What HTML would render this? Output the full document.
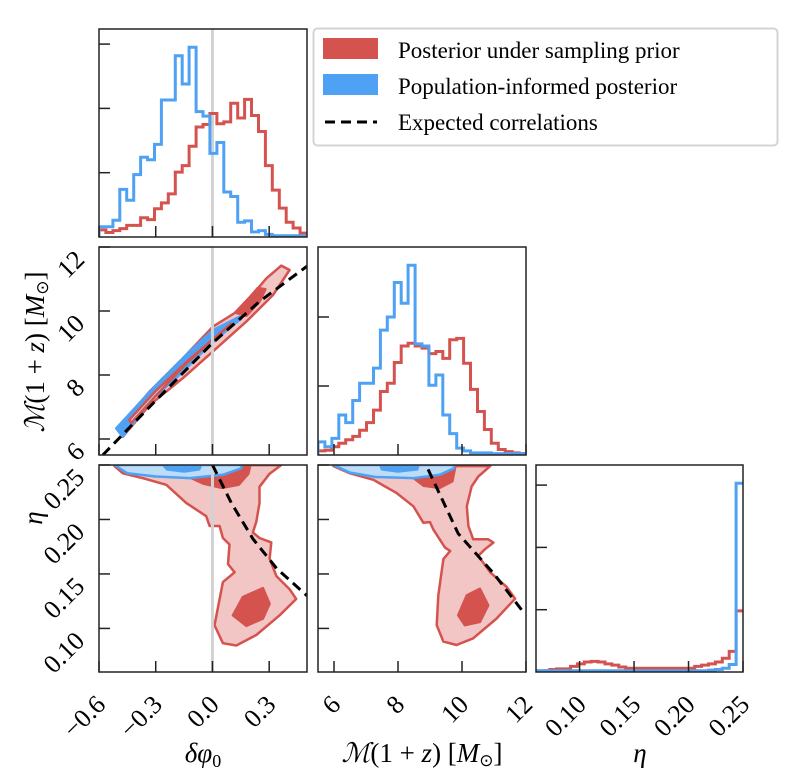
<!DOCTYPE html>
<html><head><meta charset="utf-8"><style>
html,body{margin:0;padding:0;background:#fff;}
svg{display:block;font-family:"Liberation Serif",serif;}
</style></head><body>
<svg id="fig" width="788" height="778" viewBox="0 0 788 778" xmlns="http://www.w3.org/2000/svg">
<g id="layer-fill"></g>
<g id="layer-lines"></g>
<g id="layer-axes"></g>
<g>
  <rect x="313.5" y="28.5" width="464" height="117" rx="4" fill="#fff" stroke="#d4d4d4" stroke-width="2"/>
  <rect x="323" y="38" width="55" height="21" fill="#d5534f"/>
  <text x="398" y="58" font-size="23">Posterior under sampling prior</text>
  <rect x="323" y="74" width="55" height="21" fill="#4fa2f3"/>
  <text x="398" y="94" font-size="23">Population-informed posterior</text>
  <line x1="325" y1="122" x2="377" y2="122" stroke="#000" stroke-width="3" stroke-dasharray="10,6"/>
  <text x="398" y="130" font-size="23">Expected correlations</text>
</g>
<g>
  <text x="203" y="762" font-size="27" text-anchor="middle" font-style="italic">δφ<tspan font-size="18" font-style="normal" dy="5">0</tspan></text>
  <text x="422" y="762" font-size="27" text-anchor="middle"><tspan font-style="italic">ℳ</tspan>(1 + <tspan font-style="italic">z</tspan>) [<tspan font-style="italic">M</tspan><tspan font-size="17" dy="4">⊙</tspan><tspan dy="-4">]</tspan></text>
  <text x="640" y="762" font-size="27" text-anchor="middle" font-style="italic">η</text>
  <text transform="translate(44,352) rotate(-90)" font-size="27" text-anchor="middle"><tspan font-style="italic">ℳ</tspan>(1 + <tspan font-style="italic">z</tspan>) [<tspan font-style="italic">M</tspan><tspan font-size="17" dy="4">⊙</tspan><tspan dy="-4">]</tspan></text>
  <text transform="translate(42,518) rotate(-90)" font-size="27" text-anchor="middle" font-style="italic">η</text>
</g>
</svg>
<script>
// ---- data ----
const dphiRange=[-0.6,0.5], mcRange=[5.5,12], etaRange=[0.06,0.25];
const dphiTicks=[-0.6,-0.3,0.0,0.3], dphiTickLabels=['−0.6','−0.3','0.0','0.3'];
const mcTicks=[6,8,10,12], mcTickLabels=['6','8','10','12'];
const etaTicks=[0.10,0.15,0.20,0.25], etaTickLabels=['0.10','0.15','0.20','0.25'];
const histDphiRed=[0.11,0.07,0.1,0.13,0.18,0.18,0.3,0.27,0.44,0.53,0.67,1.01,1.11,1.41,1.71,1.75,1.92,1.76,1.79,2.08,1.85,2.14,1.89,1.64,1.11,0.73,0.45,0.23,0.14,0.06];
const histDphiBlue=[0.16,0.16,0.26,0.74,0.57,0.97,1.24,1.2,1.44,2.13,2.13,2.82,2.38,2.95,1.95,1.88,1.3,1.47,0.7,0.63,0.23,0.25,0.08,0.1,0.04,0.02,0.02,0.02,0.02,0.02];
const histMcRed=[0.06,0.07,0.12,0.17,0.22,0.27,0.36,0.47,0.65,0.92,1.04,1.34,1.58,1.62,1.58,1.55,1.47,1.5,1.4,1.67,1.69,1.33,0.95,0.63,0.37,0.17,0.08,0.05,0.03,0.02];
const histMcBlue=[0.19,0.12,0.24,0.58,0.47,0.79,1.04,1.04,1.26,1.81,2.0,2.5,2.2,2.75,1.61,1.58,1.01,1.16,0.58,0.31,0.1,0.06,0.03,0.03,0.03,0.02,0.02,0.02,0.02,0.02];
const histEtaRed=[0.02,0.02,0.04,0.05,0.05,0.09,0.13,0.16,0.17,0.16,0.13,0.11,0.08,0.06,0.06,0.06,0.06,0.06,0.06,0.06,0.06,0.06,0.06,0.09,0.11,0.13,0.16,0.22,0.33,0.98];
const histEtaBlue=[0.02,0.02,0.02,0.02,0.02,0.02,0.02,0.02,0.02,0.02,0.02,0.02,0.02,0.02,0.02,0.02,0.02,0.02,0.02,0.02,0.02,0.02,0.02,0.02,0.02,0.03,0.04,0.06,0.12,3.03];
// contours [x, y] in data units
const mcDphiRedOuter=[[-0.49,6.37],[-0.333,7.48],[-0.157,8.52],[0.002,9.51],[0.143,10.03],[0.285,11.02],[0.364,11.42],[0.408,11.28],[0.32,10.5],[0.179,9.67],[0.002,8.73],[-0.157,7.9],[-0.333,7.06],[-0.474,6.07]];
const mcDphiRedInner=[[0.12,9.95],[0.2,10.45],[0.24,10.72],[0.28,10.68],[0.25,10.3],[0.18,9.85]];
const mcDphiBlueOuter=[[-0.509,6.33],[-0.315,7.58],[-0.121,8.73],[0.002,9.4],[0.143,9.82],[0.15,9.75],[0.108,9.56],[-0.015,8.94],[-0.157,8.1],[-0.333,7.17],[-0.474,6.07]];
const mcDphiBlueInner=[[-0.44,6.6],[-0.3,7.5],[-0.12,8.5],[0.0,9.1],[0.1,9.6],[0.08,9.5],[-0.02,9.0],[-0.14,8.35],[-0.3,7.35],[-0.43,6.5]];
const etaDphiRedOuter=[[-0.518,0.249],[-0.474,0.2424],[-0.368,0.2379],[-0.244,0.2318],[-0.139,0.2152],[-0.033,0.203],[-0.015,0.194],[0.038,0.194],[0.055,0.183],[0.09,0.177],[0.082,0.159],[0.117,0.1515],[0.055,0.1425],[0.011,0.103],[0.055,0.0864],[0.126,0.0843],[0.232,0.094],[0.355,0.112],[0.443,0.127],[0.408,0.136],[0.338,0.148],[0.302,0.164],[0.311,0.179],[0.249,0.183],[0.214,0.188],[0.232,0.198],[0.249,0.215],[0.249,0.23],[0.302,0.242],[0.364,0.25]];
const etaDphiRedInner=[[0.108,0.112],[0.161,0.1288],[0.267,0.137],[0.302,0.1227],[0.267,0.109],[0.179,0.1024]];
const etaDphiRedTop=[[-0.16,0.25],[-0.15,0.241],[-0.05,0.233],[0.05,0.229],[0.14,0.232],[0.19,0.242],[0.2,0.25]];
const etaDphiBlueOuter=[[-0.518,0.25],[-0.45,0.2424],[-0.3,0.2394],[-0.12,0.238],[0.055,0.241],[0.152,0.247],[0.152,0.25]];
const etaDphiBlueInner=[[-0.26,0.25],[-0.24,0.246],[-0.15,0.244],[-0.07,0.246],[-0.06,0.25]];
const etaMcRedOuter=[[5.98,0.249],[6.5,0.2424],[7.23,0.2364],[7.96,0.2242],[8.48,0.2121],[8.79,0.197],[9.0,0.1976],[9.1,0.191],[9.47,0.1742],[9.63,0.1712],[9.42,0.1636],[9.26,0.1303],[9.21,0.103],[9.42,0.0879],[9.83,0.0848],[10.35,0.0909],[11.08,0.1091],[11.66,0.1273],[11.4,0.1379],[10.88,0.1515],[10.51,0.1667],[10.72,0.1727],[10.98,0.1788],[10.82,0.1818],[10.35,0.1818],[10.2,0.194],[10.15,0.2121],[10.3,0.2303],[10.51,0.2394],[10.88,0.249]];
const etaMcRedInner=[[9.88,0.112],[10.15,0.1303],[10.56,0.1364],[10.82,0.1212],[10.56,0.106],[10.09,0.103]];
const etaMcRedTop=[[8.37,0.25],[8.4,0.24],[8.8,0.231],[9.3,0.229],[9.7,0.235],[9.8,0.25]];
const etaMcBlueOuter=[[5.98,0.25],[6.5,0.243],[7.3,0.239],[8.5,0.238],[9.3,0.241],[9.75,0.247],[9.75,0.25]];
const etaMcBlueInner=[[7.44,0.25],[7.5,0.246],[8.0,0.244],[8.6,0.246],[8.64,0.25]];
const corrMcDphiX=[-0.58,-0.3,0.0,0.25,0.5], corrMcDphiY=[5.5,7.2,9.0,10.3,11.4];
const corrEtaDphiX=[0.0,0.1,0.215,0.34,0.5], corrEtaDphiY=[0.25,0.215,0.182,0.155,0.13];
const corrEtaMcX=[8.94,9.88,11.0,11.97], corrEtaMcY=[0.246,0.187,0.15,0.113];
const truthDphi=0.0;

// ---- layout ----
const NS='http://www.w3.org/2000/svg';
const cols=[[99,307],[318,526],[536,743]];
const rows=[[29,237],[247,455],[465,672]];
function lin(d,r){return v=>r[0]+(v-d[0])/(d[1]-d[0])*(r[1]-r[0]);}
const xD=lin(dphiRange,cols[0]), xM=lin(mcRange,cols[1]), xE=lin(etaRange,cols[2]);
const yM=lin(mcRange,[rows[1][1],rows[1][0]]), yE=lin(etaRange,[rows[2][1],rows[2][0]]);
const RED='#d5534f', LRED='#f2c6c5', BLUE='#4fa2f3', LBLUE='#bcdcf7';
const fillL=document.getElementById('layer-fill'), lineL=document.getElementById('layer-lines'), axL=document.getElementById('layer-axes');
function mk(tag,attrs,parent){const e=document.createElementNS(NS,tag);for(const k in attrs)e.setAttribute(k,attrs[k]);parent.appendChild(e);return e;}
function clip(id,c,r){const cp=mk('clipPath',{id:id},document.getElementById('fig'));mk('rect',{x:c[0],y:r[0],width:c[1]-c[0],height:r[1]-r[0]},cp);}
clip('c00',cols[0],rows[0]);clip('c10',cols[0],rows[1]);clip('c11',cols[1],rows[1]);clip('c20',cols[0],rows[2]);clip('c21',cols[1],rows[2]);clip('c22',cols[2],rows[2]);
function poly(pts,fx,fy,fill,stroke,cl,name){
  const d='M'+pts.map(p=>fx(p[0]).toFixed(1)+','+fy(p[1]).toFixed(1)).join('L')+'Z';
  const e=mk('path',{d:d,fill:fill,stroke:stroke,'stroke-width':2.5,'stroke-linejoin':'round','clip-path':'url(#'+cl+')'},fillL);
  
  
}
function hist(vals,range,fx,bottom,scale,color,cl,name){
  const n=vals.length,w=(range[1]-range[0])/n;let d='M'+fx(range[0]).toFixed(1)+','+bottom;
  vals.forEach((v,i)=>{const y=(bottom-v*scale).toFixed(1);d+='L'+fx(range[0]+i*w).toFixed(1)+','+y+'L'+fx(range[0]+(i+1)*w).toFixed(1)+','+y;});
  const e=mk('path',{d:d,fill:'none',stroke:color,'stroke-width':3,'clip-path':'url(#'+cl+')'},lineL);
  
  
}
function dashed(xs,ys,fx,fy,cl,name){
  const d='M'+xs.map((x,i)=>fx(x).toFixed(1)+','+fy(ys[i]).toFixed(1)).join('L');
  const e=mk('path',{d:d,fill:'none',stroke:'#000',"stroke-width":3,'stroke-dasharray':'10,6','clip-path':'url(#'+cl+')'},lineL);
  
  
}
function vline(x,r,cl,name){
  const e=mk('line',{x1:x,x2:x,y1:r[0],y2:r[1],stroke:'#d2d2d2','stroke-width':3,'clip-path':'url(#'+cl+')'},fillL);
  
  
}
vline(xD(truthDphi),rows[0],'c00','truth-line-top');
poly(mcDphiRedOuter,xD,yM,LRED,RED,'c10','contour-red-outer-mc-dphi');
poly(mcDphiRedInner,xD,yM,RED,RED,'c10','contour-red-inner-mc-dphi');
poly(mcDphiBlueOuter,xD,yM,BLUE,BLUE,'c10','contour-blue-outer-mc-dphi');
poly(mcDphiBlueInner,xD,yM,LBLUE,RED,'c10','contour-blue-inner-mc-dphi');
vline(xD(truthDphi),rows[1],'c10','truth-line-mc');
poly(etaDphiRedOuter,xD,yE,LRED,RED,'c20','contour-red-outer-eta-dphi');
poly(etaDphiRedInner,xD,yE,RED,RED,'c20','contour-red-inner-eta-dphi');
poly(etaDphiRedTop,xD,yE,RED,RED,'c20','contour-red-top-eta-dphi');
poly(etaDphiBlueOuter,xD,yE,LBLUE,BLUE,'c20','contour-blue-outer-eta-dphi');
poly(etaDphiBlueInner,xD,yE,BLUE,BLUE,'c20','contour-blue-inner-eta-dphi');
vline(xD(truthDphi),rows[2],'c20','truth-line-eta');
poly(etaMcRedOuter,xM,yE,LRED,RED,'c21','contour-red-outer-eta-mc');
poly(etaMcRedInner,xM,yE,RED,RED,'c21','contour-red-inner-eta-mc');
poly(etaMcRedTop,xM,yE,RED,RED,'c21','contour-red-top-eta-mc');
poly(etaMcBlueOuter,xM,yE,LBLUE,BLUE,'c21','contour-blue-outer-eta-mc');
poly(etaMcBlueInner,xM,yE,BLUE,BLUE,'c21','contour-blue-inner-eta-mc');
hist(histDphiRed,dphiRange,xD,rows[0][1],64.3,RED,'c00','hist-dphi-red');
hist(histDphiBlue,dphiRange,xD,rows[0][1],64.3,BLUE,'c00','hist-dphi-blue');
hist(histMcRed,mcRange,xM,rows[1][1],69,RED,'c11','hist-mc-red');
hist(histMcBlue,mcRange,xM,rows[1][1],69,BLUE,'c11','hist-mc-blue');
hist(histEtaRed,etaRange,xE,rows[2][1],62.3,RED,'c22','hist-eta-red');
hist(histEtaBlue,etaRange,xE,rows[2][1],62.3,BLUE,'c22','hist-eta-blue');
dashed(corrMcDphiX,corrMcDphiY,xD,yM,'c10','expected-corr-mc-dphi');
dashed(corrEtaDphiX,corrEtaDphiY,xD,yE,'c20','expected-corr-eta-dphi');
dashed(corrEtaMcX,corrEtaMcY,xM,yE,'c21','expected-corr-eta-mc');
function frame(c,r,name){
  const e=mk('rect',{x:c[0],y:r[0],width:c[1]-c[0],height:r[1]-r[0],fill:'none',stroke:'#222','stroke-width':1.5},axL);
  
  
}
function xt(ticks,fx,r){ticks.forEach(t=>{const x=fx(t);const e=mk('line',{x1:x,x2:x,y1:r[1],y2:r[1]-11,stroke:'#222','stroke-width':1.5},axL);});}
function yt(ticks,fy,c){ticks.forEach(t=>{const y=fy(t);const e=mk('line',{x1:c[0],x2:c[0]+11,y1:y,y2:y,stroke:'#222','stroke-width':1.5},axL);});}
const panels=[[0,0],[1,0],[1,1],[2,0],[2,1],[2,2]];
panels.forEach(p=>frame(cols[p[1]],rows[p[0]],'panel-'+p[0]+'-'+p[1]));
[0,1,2].forEach(r=>xt(dphiTicks,xD,rows[r]));
[1,2].forEach(r=>xt(mcTicks,xM,rows[r]));
xt(etaTicks,xE,rows[2]);
yt([1,2,3],v=>rows[0][1]-v*64.3,cols[0]);
yt(mcTicks,yM,cols[0]);
yt([1,2],v=>rows[1][1]-v*69,cols[1]);
yt(etaTicks,yE,cols[0]);yt(etaTicks,yE,cols[1]);
yt([1,2,3],v=>rows[2][1]-v*62.3,cols[2]);
function lab(x,y,s,name){
  const e=mk('text',{x:0,y:0,transform:'translate('+x.toFixed(1)+','+y.toFixed(1)+') rotate(-45)','text-anchor':'end','font-size':26},axL);
  e.textContent=s;
  
  
}
dphiTicks.forEach((t,i)=>lab(xD(t)+8,706,dphiTickLabels[i],'x-tick-label-dphi'));
mcTicks.forEach((t,i)=>lab(xM(t)+8,706,mcTickLabels[i],'x-tick-label-mc'));
etaTicks.forEach((t,i)=>lab(xE(t)+8,706,etaTickLabels[i],'x-tick-label-eta'));
mcTicks.forEach((t,i)=>lab(86,yM(t)+14,mcTickLabels[i],'y-tick-label-mc'));
etaTicks.forEach((t,i)=>lab(86,yE(t)+14,etaTickLabels[i],'y-tick-label-eta'));
</script>
</body></html>
